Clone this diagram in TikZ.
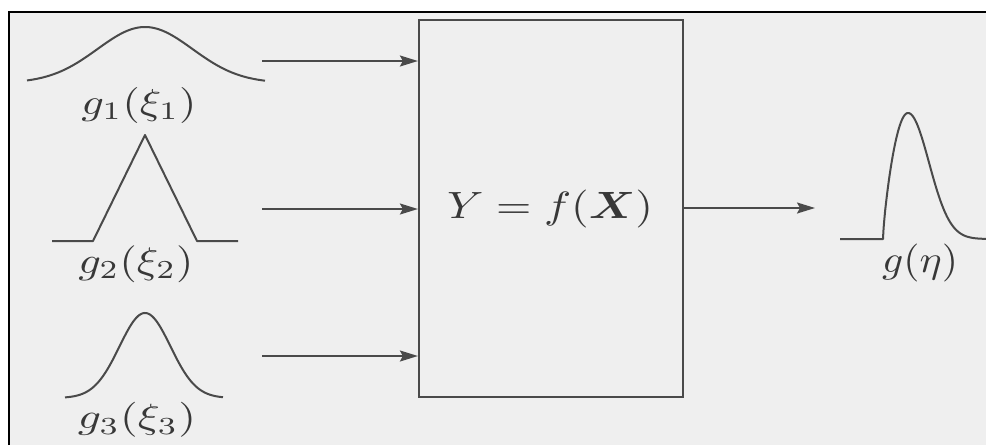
\documentclass[tikz,border=0pt]{standalone}
\usepackage{amsmath}
\usepackage{graphicx}
\usetikzlibrary{arrows.meta}
\definecolor{bg}{HTML}{EFEFEF}
\definecolor{ink}{HTML}{4A4A4A}
\definecolor{txt}{HTML}{383838}
\tikzset{
  curve/.style={draw=ink, line width=2pt, line join=round},
  arr/.style={draw=ink, line width=1.8pt, -{Stealth[length=18pt,width=11pt,inset=3pt]}},
  lbl/.style={inner sep=0pt, text=txt},
  blk/.style={draw=ink, line width=2.2pt, fill=bg, minimum width=264pt, minimum height=377pt, inner sep=0pt}
}
\begin{document}
\begin{tikzpicture}[x=1pt,y=-1pt]
\useasboundingbox (0,0) rectangle (986,445);
% background and frame
\fill[white] (0,0) rectangle (986,445);
\fill[bg] (9,12) rectangle (986,445);
\draw[black, line width=2.2pt] (9,445) -- (9,12) -- (986,12);

% central block
\node[blk] (box) at (551,208.5) {};
\node[lbl] (ftext) at (550,209) {\resizebox*{206pt}{38pt}{$Y=f(\boldsymbol{X})$}};

% input curves
\draw[curve] plot[domain=27:265, samples=120] (\x, {83-56*exp(-0.5*((\x-145)/47.5)^2)});
\draw[curve] (52,241) -- (93,241) -- (145,135) -- (197,241) -- (238,241);
\draw[curve] plot[domain=65:223, samples=120] (\x, {398-85*exp(-0.5*((\x-145)/25.5)^2)});

% input labels
\node[lbl] (l1) at (139,105) {\resizebox*{115pt}{36pt}{$g_1(\xi_1)$}};
\node[lbl] (l2) at (136,264) {\resizebox*{115pt}{37pt}{$g_2(\xi_2)$}};
\node[lbl] (l3) at (137,420) {\resizebox*{118pt}{35pt}{$g_3(\xi_3)$}};

% input arrows
\coordinate (in1) at (262,61);
\coordinate (in2) at (262,209);
\coordinate (in3) at (262,356);
\draw[arr] (in1) -- (box.west |- in1);
\draw[arr] (in2) -- (box.west |- in2);
\draw[arr] (in3) -- (box.west |- in3);

% output arrow
\coordinate (outtip) at (815,208);
\draw[arr] (box.east |- outtip) -- (outtip);

% output curve
\draw[curve] (840,239) -- (883,239)
  -- plot[domain=883:908, samples=60] (\x, {239-126*pow(abs(sin(90*(\x-883)/25))+0.00001,0.75)})
  -- plot[domain=908:986, samples=100] (\x, {239-126*exp(-0.5*((\x-908)/21)^2)});
\node[lbl] (lout) at (920,263) {\resizebox*{76pt}{38pt}{$g(\eta)$}};
\end{tikzpicture}
\end{document}
